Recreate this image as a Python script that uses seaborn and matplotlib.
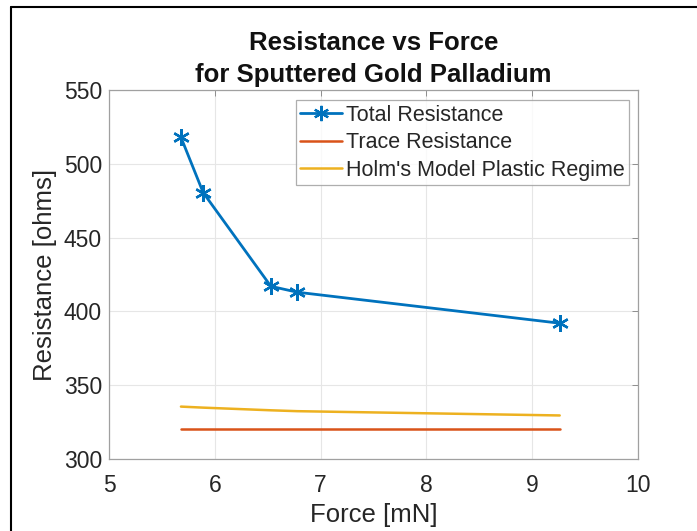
import matplotlib.pyplot as plt
import matplotlib.lines as mlines
import pandas as pd
import seaborn as sns

force = [5.68, 5.89, 6.53, 6.78, 9.26]
total_resistance = [518, 480.5, 417, 413, 392]
trace_resistance = [320, 320, 320, 320, 320]
holm_plastic = [335.5, 334.8, 333.0, 332.4, 329.5]

series_names = ["Total Resistance", "Trace Resistance", "Holm's Model Plastic Regime"]
colors = ["#0072BD", "#D95319", "#EDB120"]

df = pd.DataFrame({
    "force": force * 3,
    "resistance": total_resistance + trace_resistance + holm_plastic,
    "series": [s for s in series_names for _ in force],
})

sns.set_style("whitegrid")
plt.rcParams["font.family"] = ["Liberation Sans", "DejaVu Sans"]

fig = plt.figure(figsize=(6.97, 5.31), dpi=100)
ax = fig.add_axes([109 / 697, 1 - 459 / 531, (638 - 109) / 697, (459 - 90) / 531])

for name, color in zip(series_names, colors):
    sub = df[df["series"] == name]
    sns.lineplot(
        data=sub, x="force", y="resistance", ax=ax, color=color,
        linewidth=2 if name == series_names[0] else 1.8,
        marker=(6, 2, 0) if name == series_names[0] else None,
        markersize=12, markeredgewidth=1.7, markeredgecolor=color,
        label=name, legend=False,
    )

ax.set_xlim(5, 10)
ax.set_ylim(300, 550)
ax.set_xticks([5, 6, 7, 8, 9, 10])
ax.set_yticks([300, 350, 400, 450, 500, 550])
ax.tick_params(axis="both", labelsize=16.5, colors="#262626", direction="in",
               length=4, width=0.6, top=True, right=True)
ax.tick_params(axis="x", pad=11)
ax.tick_params(axis="y", pad=5)
ax.tick_params(axis="both", color="#808080")
ax.grid(True, color="#e6e6e6", linewidth=0.8)
for spine in ax.spines.values():
    spine.set_color("#a0a0a0")
    spine.set_linewidth(0.9)

ax.set_xlabel("Force [mN]", fontsize=18.5, color="#262626", labelpad=4)
ax.set_ylabel("Resistance [ohms]", fontsize=18.5, color="#262626", labelpad=5)
ax.set_title("Resistance vs Force\nfor Sputtered Gold Palladium",
             fontsize=18.5, fontweight="bold", color="#111111", pad=6, linespacing=1.42)

handles = [
    mlines.Line2D([], [], color=colors[0], linewidth=2, marker=(6, 2, 0),
                  markersize=11, markeredgewidth=1.6),
    mlines.Line2D([], [], color=colors[1], linewidth=1.8),
    mlines.Line2D([], [], color=colors[2], linewidth=1.8),
]
leg = ax.legend(handles, series_names, loc="upper right", bbox_to_anchor=(0.983, 0.973),
                fontsize=15.5, frameon=True, fancybox=False, borderpad=0.22,
                labelspacing=0.3, handlelength=1.95, handletextpad=0.15,
                borderaxespad=0.0)
leg.get_frame().set_edgecolor("#9a9a9a")
leg.get_frame().set_linewidth(0.9)
for t in leg.get_texts():
    t.set_color("#262626")

# picture border (black at top and left, like the cropped screenshot)
fig.add_artist(mlines.Line2D([11 / 697, 11 / 697], [0, 1 - 7 / 531],
                             transform=fig.transFigure, color="black", linewidth=1.5))
fig.add_artist(mlines.Line2D([11 / 697, 1], [1 - 7 / 531, 1 - 7 / 531],
                             transform=fig.transFigure, color="black", linewidth=1.5))

fig.savefig("out.png", dpi=100)
